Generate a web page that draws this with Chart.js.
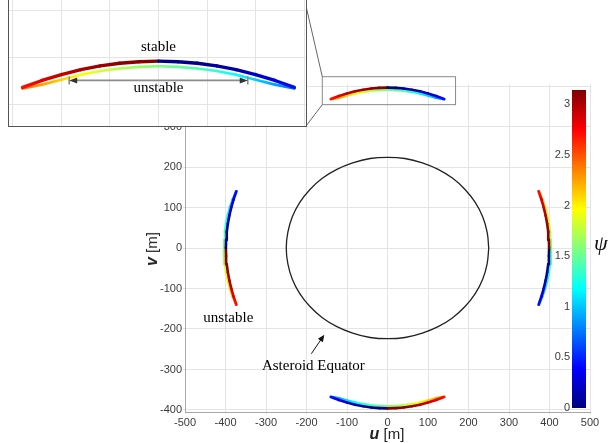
<!DOCTYPE html>
<html>
<head>
<meta charset="utf-8">
<script src="https://cdn.jsdelivr.net/npm/chart.js@4.4.1/dist/chart.umd.min.js"></script>
<style>
  html, body { margin: 0; padding: 0; background: #fff; }
  #wrap { position: relative; width: 614px; height: 443px; overflow: hidden; }
  #main { position: absolute; left: 0; top: 0; }
  #inset-box { position: absolute; left: 8px; top: -1px; width: 297px; height: 126px; background: #fff; border: 1px solid #555; }
  #inset { display: block; }
  #bar { position: absolute; left: 530px; top: 80px; }
  .axt { position: absolute; font-family: "Liberation Sans", Arial, sans-serif; font-size: 15px; color: #222; white-space: nowrap; }
  .axt b { font-size: 16px; }
  #psi { position: absolute; left: 594px; top: 230px; font-family: "Liberation Serif", "Times New Roman", serif; font-style: italic; font-size: 22px; color: #111; }
</style>
</head>
<body>
<div id="wrap">
  <canvas id="main" width="614" height="443"></canvas>
  <canvas id="bar" width="84" height="340"></canvas>
  <div id="inset-box"><canvas id="inset" width="297" height="126"></canvas></div>
  <div class="axt" style="left:387px; top:425px; transform:translateX(-50%);"><b><i>u</i></b> [m]</div>
  <div class="axt" style="left:152px; top:249px; transform:translate(-50%,-50%) rotate(-90deg);"><b><i>v</i></b> [m]</div>
  <div id="psi">ψ</div>
</div>
<script>
// position along each arc [m] (lateral), shared by the four arcs
const arcPos = [-140, -120, -100, -80, -60, -40, -20, 0, 20, 40, 60, 80, 100, 120, 140];

// distance from the centre [m] for the top/bottom arcs and the left/right arcs
const tbStableR   = [368, 375.4, 381.7, 386.9, 390.9, 393.7, 395.4, 396, 395.4, 393.7, 390.9, 386.9, 381.7, 375.4, 368];
const tbUnstableR = [367, 371, 376.2, 381.4, 385.4, 388.2, 389.9, 390.5, 389.9, 388.2, 385.4, 381.4, 376.2, 371, 367];
const lrStableR   = [373, 379.9, 385.7, 390.5, 394.2, 396.9, 398.5, 399, 398.5, 396.9, 394.2, 390.5, 385.7, 379.9, 373];
const lrUnstableR = [374, 382, 389, 394.5, 398.7, 401.5, 403.2, 403.7, 403.2, 401.5, 398.7, 394.5, 389, 382, 374];

// psi along the arcs (red end first / blue end first)
const stablePsiRed   = [2.70, 2.84, 2.93, 3.00, 3.05, 3.09, 3.12, 3.14, 0.02, 0.05, 0.09, 0.14, 0.21, 0.30, 0.44];
const stablePsiBlue  = [0.44, 0.30, 0.21, 0.14, 0.09, 0.05, 0.02, 0.00, 3.12, 3.09, 3.05, 3.00, 2.93, 2.84, 2.70];
const unstablePsiRed  = [2.42, 2.25, 2.10, 1.96, 1.84, 1.73, 1.65, 1.57, 1.49, 1.41, 1.30, 1.18, 1.04, 0.89, 0.72];
const unstablePsiBlue = [0.72, 0.89, 1.04, 1.18, 1.30, 1.41, 1.49, 1.57, 1.65, 1.73, 1.84, 1.96, 2.10, 2.25, 2.42];

// asteroid equator outline [m]
const equatorU = [250, 246, 235, 217, 192, 161, 125, 86, 43, 0, -43, -86, -125, -161, -192, -217, -235, -246,
                  -250, -246, -235, -217, -192, -161, -125, -86, -43, 0, 43, 86, 125, 161, 192, 217, 235, 246, 250];
const equatorV = [0, 39, 77, 112, 144, 172, 194, 210, 221, 224, 221, 210, 194, 172, 144, 112, 77, 39,
                  0, -39, -77, -112, -144, -172, -194, -210, -221, -224, -221, -210, -194, -172, -144, -112, -77, -39, 0];

const uTicks = [-500, -400, -300, -200, -100, 0, 100, 200, 300, 400, 500];
const vTicks = [-400, -300, -200, -100, 0, 100, 200, 300, 400];
const psiRange = [0, 3.1416];
const psiTicks = [0, 0.5, 1, 1.5, 2, 2.5, 3];

const psiMax = psiRange[1];
const tickFont = { family: '"Liberation Sans", Arial, sans-serif', size: 11 };
const tickColor = '#3a3a3a';
const gridColor = '#e4e4e4';
const serif = '"Liberation Serif", "Times New Roman", serif';

function jet(t) {
  t = Math.min(1, Math.max(0, t));
  const c = k => Math.round(255 * Math.min(1, Math.max(0, 1.5 - Math.abs(4 * t - k))));
  return 'rgb(' + c(3) + ',' + c(2) + ',' + c(1) + ')';
}

function arc(side, radial, psi) {
  return arcPos.map(function(a, i) {
    const r = radial[i];
    const p = { top: [a, r], bottom: [a, -r], left: [-r, a], right: [r, a] }[side];
    return { x: p[0], y: p[1], psi: psi[i] };
  });
}

function fixedTicks(values) {
  return function(s) { s.ticks = values.map(function(v) { return { value: v }; }); };
}

// colour each piece of line from psi at its two ends
function segColor(ctx) {
  const ds = ctx.chart.data.datasets[ctx.datasetIndex];
  const a = ds.data[ctx.p0DataIndex], b = ds.data[ctx.p1DataIndex];
  if (Math.abs(a.psi - b.psi) > 1.5) return jet(b.psi / psiMax);
  const g = ctx.chart.ctx.createLinearGradient(ctx.p0.x, ctx.p0.y, ctx.p1.x, ctx.p1.y);
  g.addColorStop(0, jet(a.psi / psiMax));
  g.addColorStop(1, jet(b.psi / psiMax));
  return g;
}

function branch(data, width, order) {
  return {
    data: data, showLine: true, pointRadius: 0, borderWidth: width, order: order,
    borderCapStyle: 'round', borderJoinStyle: 'round',
    segment: { borderColor: segColor }
  };
}

function arrow(ctx, x0, y0, x1, y1, len, half) {
  const ang = Math.atan2(y1 - y0, x1 - x0);
  ctx.beginPath();
  ctx.moveTo(x0, y0);
  ctx.lineTo(x1 - Math.cos(ang) * len * 0.8, y1 - Math.sin(ang) * len * 0.8);
  ctx.stroke();
  ctx.beginPath();
  ctx.moveTo(x1, y1);
  ctx.lineTo(x1 - Math.cos(ang) * len + Math.sin(ang) * half, y1 - Math.sin(ang) * len - Math.cos(ang) * half);
  ctx.lineTo(x1 - Math.cos(ang) * len - Math.sin(ang) * half, y1 - Math.sin(ang) * len + Math.cos(ang) * half);
  ctx.closePath();
  ctx.fill();
}

// ---------- main plot ----------
const mainNotes = [
  { text: 'unstable', u: -393, v: -173 },
  { text: 'Asteroid Equator', u: -183, v: -291 }
];
const equatorArrow = { from: [-188, -261], to: [-156, -214] };
const zoomBox = { u0: -161, u1: 168, v0: 354, v1: 423 };

const mainDecor = {
  id: 'mainDecor',
  afterDatasetsDraw(chart) {
    const ctx = chart.ctx, x = chart.scales.x, y = chart.scales.y;
    ctx.save();
    ctx.fillStyle = '#000';
    ctx.font = '15px ' + serif;
    ctx.textAlign = 'center';
    ctx.textBaseline = 'middle';
    mainNotes.forEach(function(n) {
      ctx.fillText(n.text, x.getPixelForValue(n.u), y.getPixelForValue(n.v));
    });
    ctx.strokeStyle = '#111';
    ctx.fillStyle = '#111';
    ctx.lineWidth = 1;
    arrow(ctx, x.getPixelForValue(equatorArrow.from[0]), y.getPixelForValue(equatorArrow.from[1]),
          x.getPixelForValue(equatorArrow.to[0]), y.getPixelForValue(equatorArrow.to[1]), 7, 3);
    // zoom box and connectors to the inset
    const bx0 = x.getPixelForValue(zoomBox.u0), bx1 = x.getPixelForValue(zoomBox.u1);
    const by0 = y.getPixelForValue(zoomBox.v1), by1 = y.getPixelForValue(zoomBox.v0);
    ctx.strokeStyle = '#8a8a8a';
    ctx.strokeRect(bx0, by0, bx1 - bx0, by1 - by0);
    const box = document.getElementById('inset-box');
    const ix = box.offsetLeft + box.offsetWidth - 1, iy1 = box.offsetTop + box.offsetHeight - 1;
    ctx.strokeStyle = '#666';
    ctx.beginPath();
    ctx.moveTo(ix, 6); ctx.lineTo(bx0, by0);
    ctx.moveTo(ix, iy1); ctx.lineTo(bx0, by1);
    ctx.stroke();
    ctx.restore();
  }
};

const equator = equatorU.map(function(u, i) { return { x: u, y: equatorV[i] }; });

new Chart(document.getElementById('main'), {
  type: 'scatter',
  data: {
    datasets: [
      branch(arc('top', tbStableR, stablePsiRed), 2.6, 1),
      branch(arc('bottom', tbStableR, stablePsiBlue), 2.6, 1),
      branch(arc('left', lrStableR, stablePsiRed), 2.6, 1),
      branch(arc('right', lrStableR, stablePsiBlue), 2.6, 1),
      branch(arc('top', tbUnstableR, unstablePsiRed), 2.4, 2),
      branch(arc('bottom', tbUnstableR, unstablePsiBlue), 2.4, 2),
      branch(arc('left', lrUnstableR, unstablePsiRed), 2.4, 2),
      branch(arc('right', lrUnstableR, unstablePsiBlue), 2.4, 2),
      { data: equator, showLine: true, pointRadius: 0, borderColor: '#222', borderWidth: 1.3, tension: 0.4, order: 3 }
    ]
  },
  options: {
    responsive: false,
    animation: false,
    layout: { padding: { left: 155, right: 24, top: 84, bottom: 11 } },
    plugins: { legend: { display: false }, tooltip: { enabled: false } },
    scales: {
      x: {
        type: 'linear', min: -500, max: 500,
        afterBuildTicks: fixedTicks(uTicks),
        ticks: { font: tickFont, color: tickColor, padding: 2, maxRotation: 0, callback: v => String(v) },
        grid: { color: gridColor, tickLength: 2 },
        border: { color: '#a8a8a8' },
        afterFit: function(s) { s.height = 20; }
      },
      y: {
        type: 'linear', min: -405, max: 405,
        afterBuildTicks: fixedTicks(vTicks),
        ticks: { font: tickFont, color: tickColor, padding: 1, callback: v => String(v) },
        grid: { color: gridColor, tickLength: 2 },
        border: { color: '#a8a8a8' },
        afterFit: function(s) { s.width = 30; }
      }
    }
  },
  plugins: [mainDecor]
});

// ---------- colour bar ----------
function jetGradient(chart) {
  if (!chart.chartArea) return 'transparent';
  const y = chart.scales.y;
  const g = chart.ctx.createLinearGradient(0, y.getPixelForValue(psiRange[0]), 0, y.getPixelForValue(psiRange[1]));
  [0, 0.125, 0.25, 0.375, 0.5, 0.625, 0.75, 0.875, 1].forEach(function(t) { g.addColorStop(t, jet(t)); });
  return g;
}

new Chart(document.getElementById('bar'), {
  type: 'bar',
  data: {
    labels: ['ψ'],
    datasets: [{
      data: [psiRange], borderWidth: 0, categoryPercentage: 1, barPercentage: 1,
      backgroundColor: function(ctx) { return jetGradient(ctx.chart); }
    }]
  },
  options: {
    responsive: false,
    animation: false,
    layout: { padding: { left: 0, right: 28, top: 10, bottom: 12 } },
    plugins: { legend: { display: false }, tooltip: { enabled: false } },
    scales: {
      x: { display: false },
      y: {
        min: psiRange[0], max: psiRange[1],
        afterBuildTicks: fixedTicks(psiTicks),
        ticks: { font: tickFont, color: tickColor, padding: 2, callback: v => String(v) },
        grid: { display: false, drawTicks: false },
        border: { display: false },
        afterFit: function(s) { s.width = 42; }
      }
    }
  }
});

// ---------- inset (close-up of the top arc) ----------
const insetNotes = [
  { text: 'stable', u: 0, v: 410.5 },
  { text: 'unstable', u: 0, v: 367 }
];
const insetSpan = { u0: -92, u1: 92, v: 375.5 };

const insetDecor = {
  id: 'insetDecor',
  afterDatasetsDraw(chart) {
    const ctx = chart.ctx, x = chart.scales.x, y = chart.scales.y;
    ctx.save();
    const x0 = x.getPixelForValue(insetSpan.u0), x1 = x.getPixelForValue(insetSpan.u1), yy = y.getPixelForValue(insetSpan.v);
    ctx.strokeStyle = '#8c8c8c';
    ctx.fillStyle = '#333';
    ctx.lineWidth = 1.6;
    ctx.beginPath();
    ctx.moveTo(x0 + 6, yy); ctx.lineTo(x1 - 6, yy);
    ctx.moveTo(x0, yy - 4); ctx.lineTo(x0, yy + 4);
    ctx.moveTo(x1, yy - 4); ctx.lineTo(x1, yy + 4);
    ctx.stroke();
    [[x0, 1], [x1, -1]].forEach(function(h) {
      ctx.beginPath();
      ctx.moveTo(h[0], yy);
      ctx.lineTo(h[0] + h[1] * 8, yy - 3);
      ctx.lineTo(h[0] + h[1] * 8, yy + 3);
      ctx.closePath();
      ctx.fill();
    });
    ctx.fillStyle = '#000';
    ctx.font = '15px ' + serif;
    ctx.textAlign = 'center';
    ctx.textBaseline = 'middle';
    insetNotes.forEach(function(n) {
      ctx.fillText(n.text, x.getPixelForValue(n.u), y.getPixelForValue(n.v));
    });
    ctx.restore();
  }
};

new Chart(document.getElementById('inset'), {
  type: 'scatter',
  data: {
    datasets: [
      branch(arc('top', tbStableR, stablePsiRed), 3.4, 1),
      branch(arc('top', tbUnstableR, unstablePsiRed), 2.6, 2)
    ]
  },
  options: {
    responsive: false,
    animation: false,
    layout: { padding: 0 },
    plugins: { legend: { display: false }, tooltip: { enabled: false } },
    scales: {
      x: {
        type: 'linear', min: -154, max: 152,
        afterBuildTicks: fixedTicks([-150, -100, -50, 0, 50, 100, 150]),
        ticks: { display: false },
        grid: { color: gridColor, drawTicks: false },
        border: { display: false },
        afterFit: function(s) { s.height = 0; }
      },
      y: {
        type: 'linear', min: 327, max: 461,
        afterBuildTicks: fixedTicks([350, 400, 450]),
        ticks: { display: false },
        grid: { color: gridColor, drawTicks: false },
        border: { display: false },
        afterFit: function(s) { s.width = 0; }
      }
    }
  },
  plugins: [insetDecor]
});
</script>
</body>
</html>
